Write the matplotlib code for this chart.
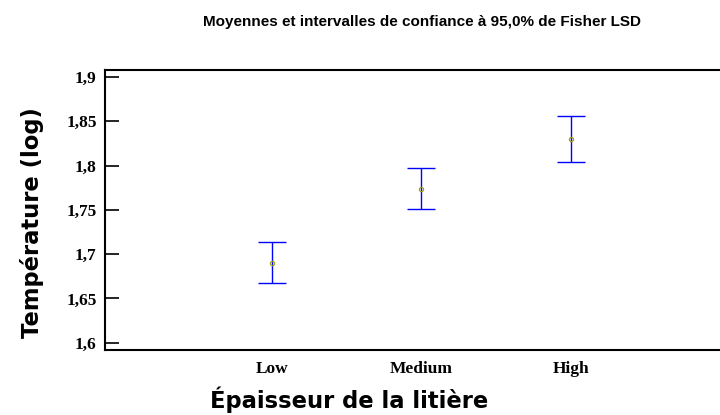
import numpy as np
import matplotlib.pyplot as plt

groups = ["Low", "Medium", "High"]
means = [1.690, 1.774, 1.830]
lower = [1.668, 1.751, 1.804]
upper = [1.714, 1.797, 1.856]
yticks = [1.6, 1.65, 1.7, 1.75, 1.8, 1.85, 1.9]
ylabels = ["1,6", "1,65", "1,7", "1,75", "1,8", "1,85", "1,9"]

fig = plt.figure(figsize=(7.2, 4.15), dpi=100)
ax = fig.add_axes([0.1458, 0.1566, 0.8542, 0.6747])

x = np.arange(len(groups))
m = np.array(means)
err = [m - np.array(lower), np.array(upper) - m]
ax.errorbar(x, m, yerr=err, fmt="none", ecolor="#0000ff", elinewidth=1.0,
            capsize=10, capthick=1.0)
ax.plot(x, m, "o", ms=3, mfc="none", mec="#a0a020", mew=0.9)

ax.set_xlim(-1.12, 1.0 + 2.0)
ax.set_ylim(1.5918, 1.9079)
ax.set_xticks(x)
ax.set_xticklabels(groups, fontfamily="Liberation Serif", fontweight="bold", fontsize=12.5)
ax.tick_params(axis="x", length=0, pad=8)
ax.set_yticks(yticks)
ax.set_yticklabels(ylabels, fontfamily="Liberation Serif", fontweight="bold", fontsize=12.5)
ax.tick_params(axis="y", direction="in", length=10, width=1.2, pad=6)

ax.spines["right"].set_visible(False)
for s in ["left", "top", "bottom"]:
    ax.spines[s].set_linewidth(1.5)

fig.text(32 / 720, 1 - 223 / 415, "Température (log)", rotation=90,
         ha="center", va="center", fontfamily="DejaVu Sans", fontweight="bold",
         fontsize=16.3)
fig.text(349 / 720, 1 - 408 / 415, "Épaisseur de la litière",
         ha="center", va="baseline", fontfamily="DejaVu Sans", fontweight="bold",
         fontsize=16.3)
fig.text(422 / 720, 1 - 22 / 415, "Moyennes et intervalles de confiance à 95,0% de Fisher LSD",
         ha="center", va="center", fontfamily="Liberation Sans", fontweight="bold",
         fontsize=11)

plt.savefig("out.png", dpi=100)
